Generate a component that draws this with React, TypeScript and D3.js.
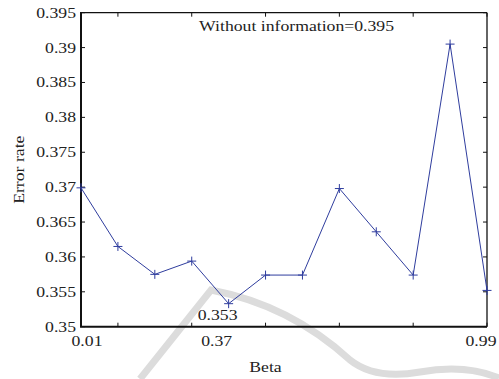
import React, { useRef, useEffect } from "react";
import * as d3 from "d3";

// beta values tried (12 runs), plotted evenly spaced
const beta = [0.01, 0.1, 0.19, 0.28, 0.37, 0.46, 0.55, 0.64, 0.73, 0.82, 0.91, 0.99];
const errorRate = [0.3699, 0.3615, 0.3575, 0.3594, 0.3533, 0.3574, 0.3574, 0.3698, 0.3636, 0.3574, 0.3905, 0.3552];
const yTicks = [0.35, 0.355, 0.36, 0.365, 0.37, 0.375, 0.38, 0.385, 0.39, 0.395];
const xTickIdx = [1, 3, 5, 7, 9, 11];
const xLabels = ["0.01", "0.37", "0.99"];
const xLabelIdx = [0, 4, 11];
const baseline = "Without information=0.395";
const minLabel = "0.353";

const W = 499;
const H = 379;
const SX = 1.18; // the figure is a bit stretched sideways

export default function App() {
  const svgRef = useRef<SVGSVGElement>(null);

  useEffect(() => {
    const svg = d3.select(svgRef.current);
    svg.selectAll("*").remove();

    const margin = { top: 12.7, right: 12, bottom: 52.3, left: 81 };
    const x = d3.scaleLinear().domain([0, beta.length - 1]).range([margin.left, W - margin.right]);
    const y = d3.scaleLinear().domain([0.35, 0.395]).range([H - margin.bottom, margin.top]);
    const [x0, x1] = x.range();
    const [y0, y1] = y.range();

    const font = "'Liberation Serif', 'Times New Roman', serif";
    const text = (g: any, tx: number, ty: number, s: string, anchor = "middle", rot = 0) =>
      g
        .append("text")
        .attr("transform", `translate(${tx},${ty}) rotate(${rot}) scale(${SX},1)`)
        .attr("text-anchor", anchor)
        .attr("font-family", font)
        .attr("font-size", 15)
        .attr("fill", "#222")
        .text(s);

    // watermark behind everything
    svg
      .append("path")
      .attr("d", "M140,379 L211,290 Q290,305 350,360 Q375,380 420,372 Q465,364 499,378")
      .attr("fill", "none")
      .attr("stroke", "#dcdcdc")
      .attr("stroke-width", 7);

    const g = svg.append("g");

    // box: top/right thin, bottom/left thick
    g.append("line").attr("x1", x0).attr("x2", x1).attr("y1", y1).attr("y2", y1).attr("stroke", "#111").attr("stroke-width", 1.3);
    g.append("line").attr("x1", x1).attr("x2", x1).attr("y1", y1).attr("y2", y0).attr("stroke", "#111").attr("stroke-width", 1.3);

    // y ticks, both sides, pointing in
    yTicks.forEach((v) => {
      g.append("line").attr("x1", x0).attr("x2", x0 + 4).attr("y1", y(v)).attr("y2", y(v)).attr("stroke", "#111");
      g.append("line").attr("x1", x1 - 4).attr("x2", x1).attr("y1", y(v)).attr("y2", y(v)).attr("stroke", "#111");
      text(g, x0 - 5, y(v) + 5, String(v), "end");
    });

    // x ticks, top and bottom
    xTickIdx.forEach((i) => {
      g.append("line").attr("x1", x(i)).attr("x2", x(i)).attr("y1", y0).attr("y2", y0 - 4).attr("stroke", "#111");
      g.append("line").attr("x1", x(i)).attr("x2", x(i)).attr("y1", y1).attr("y2", y1 + 4).attr("stroke", "#111");
    });
    const labelShift = [6, -12, -6];
    xLabels.forEach((s, k) => text(g, x(xLabelIdx[k]) + labelShift[k], y0 + 19.5, s));

    g.append("line").attr("x1", x0 - 1).attr("x2", x1).attr("y1", y0).attr("y2", y0).attr("stroke", "#111").attr("stroke-width", 2);
    g.append("line").attr("x1", x0).attr("x2", x0).attr("y1", y1 - 0.6).attr("y2", y0).attr("stroke", "#111").attr("stroke-width", 2);

    // series
    const line = d3
      .line<number>()
      .x((_, i) => x(i))
      .y((d) => y(d));
    g.append("path").datum(errorRate).attr("d", line).attr("fill", "none").attr("stroke", "#2f3d9e").attr("stroke-width", 1);

    errorRate.forEach((d, i) => {
      g.append("path")
        .attr("d", `M${x(i) - 4.5},${y(d)}h9M${x(i)},${y(d) - 4.5}v9`)
        .attr("stroke", "#2f3d9e")
        .attr("stroke-width", 1);
    });

    // annotations
    const iMin = errorRate.indexOf(d3.min(errorRate)!);
    text(g, x(iMin) - 11, y(errorRate[iMin]) + 16.5, minLabel);
    text(g, x(5.84), y(0.3924), baseline);

    // axis titles
    text(g, 265.5, H - 7, "Beta");
    text(g, 24, (y0 + y1) / 2, "Error rate", "middle", -90);
  }, []);

  return (
    <svg
      ref={svgRef}
      width={W}
      height={H}
      style={{ position: "absolute", left: 0, top: 0, background: "#fff" }}
    ></svg>
  );
}
